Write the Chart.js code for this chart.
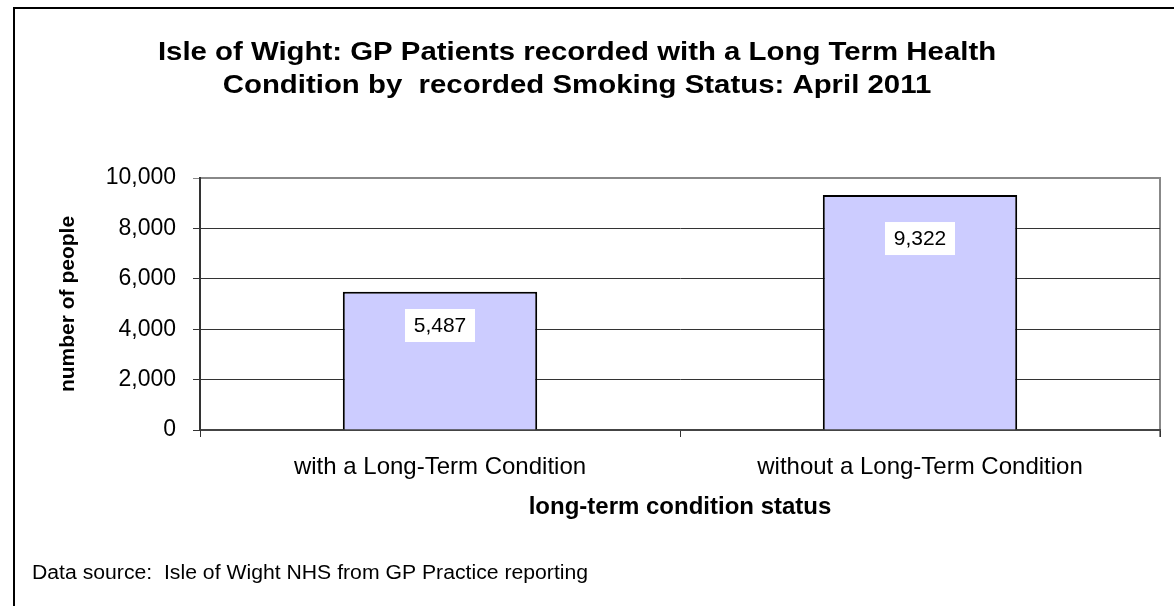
<!DOCTYPE html>
<html>
<head>
<meta charset="utf-8">
<script src="https://cdn.jsdelivr.net/npm/chart.js@4.4.1/dist/chart.umd.min.js"></script>
<style>
  html, body { margin: 0; padding: 0; background: #fff; }
  #wrap { position: relative; width: 1174px; height: 606px; }
</style>
</head>
<body>
<div id="wrap"><canvas id="lt-chart" width="1174" height="606"></canvas></div>
<script>
const categories = ["with a Long-Term Condition", "without a Long-Term Condition"];
const people = [5487, 9322];
const yTicks = [0, 2000, 4000, 6000, 8000, 10000];
const titleLines = [
    "Isle of Wight: GP Patients recorded with a Long Term Health",
    "Condition by  recorded Smoking Status: April 2011"
];
const sourceNote = "Data source:  Isle of Wight NHS from GP Practice reporting";

const FONT = "'Liberation Sans', Arial, sans-serif";

// text stretched horizontally so widths match the original
function wideText(ctx, text, x, y, sx) {
    ctx.save();
    ctx.translate(x, y);
    ctx.scale(sx, 1);
    ctx.fillText(text, 0, 0);
    ctx.restore();
}

// frame, title, plot border, value boxes and footnote
const decorations = {
    id: "decorations",
    beforeDraw(chart) {
        const { ctx, chartArea } = chart;
        ctx.save();
        ctx.strokeStyle = "#000";
        ctx.lineWidth = 2;
        ctx.beginPath();
        ctx.moveTo(14, 606);
        ctx.lineTo(14, 8);
        ctx.lineTo(1174, 8);
        ctx.stroke();

        ctx.fillStyle = "#000";
        ctx.textAlign = "center";
        ctx.textBaseline = "middle";
        ctx.font = "bold 26px " + FONT;
        titleLines.forEach((line, i) => wideText(ctx, line, 577, 53 + i * 33, 1.13));

        ctx.textAlign = "left";
        ctx.font = "20px " + FONT;
        wideText(ctx, sourceNote, 32, 573, 1.06);

        ctx.strokeStyle = "#888";
        ctx.lineWidth = 2;
        ctx.beginPath();
        ctx.moveTo(chartArea.left, chartArea.top);
        ctx.lineTo(chartArea.right, chartArea.top);
        ctx.lineTo(chartArea.right, chartArea.bottom + 7);
        ctx.stroke();
        ctx.restore();
    },
    afterDatasetsDraw(chart) {
        const { ctx } = chart;
        const meta = chart.getDatasetMeta(0);
        ctx.save();
        ctx.font = "21px " + FONT;
        ctx.textAlign = "center";
        ctx.textBaseline = "middle";
        meta.data.forEach((bar, i) => {
            const text = people[i].toLocaleString("en-GB");
            const cy = bar.y + 20 + 0.1 * (bar.base - bar.y);
            ctx.fillStyle = "#fff";
            ctx.fillRect(bar.x - 35, cy - 16.5, 70, 33);
            ctx.fillStyle = "#000";
            ctx.fillText(text, bar.x, cy + 1);
        });
        ctx.restore();
    }
};

new Chart(document.getElementById("lt-chart"), {
    type: "bar",
    data: {
        labels: categories,
        datasets: [{
            data: people,
            backgroundColor: "#CCCCFF",
            borderColor: "#000",
            borderWidth: 2,
            barPercentage: 0.405,
            categoryPercentage: 1
        }]
    },
    options: {
        responsive: false,
        animation: false,
        layout: { padding: { left: 0, right: 14, top: 178, bottom: 0 } },
        plugins: {
            legend: { display: false },
            title: { display: false },
            tooltip: { enabled: false }
        },
        scales: {
            x: {
                afterFit: scale => { scale.height = 176; },
                grid: {
                    offset: true,
                    drawOnChartArea: false,
                    tickLength: 7,
                    color: "#333",
                    lineWidth: 1
                },
                border: { color: "#444", width: 2 },
                ticks: {
                    color: "#000",
                    padding: 16,
                    font: { family: FONT, size: 24 }
                },
                title: {
                    display: true,
                    text: "long-term condition status",
                    color: "#000",
                    font: { family: FONT, size: 24, weight: "bold" },
                    padding: { top: 0, bottom: 84.6 }
                }
            },
            y: {
                min: 0,
                max: 10000,
                afterFit: scale => { scale.width = 200; },
                afterBuildTicks: scale => { scale.ticks = yTicks.map(v => ({ value: v })); },
                grid: {
                    tickLength: 7,
                    color: ctx => ctx.tick && ctx.tick.value === 10000 ? "#888" : "#333",
                    lineWidth: 1
                },
                border: { color: "#333", width: 2 },
                ticks: {
                    color: "#000",
                    padding: 17,
                    font: { family: FONT, size: 23 },
                    callback: v => v.toLocaleString("en-GB")
                },
                title: {
                    display: true,
                    text: "number of people",
                    color: "#000",
                    font: { family: FONT, size: 21, weight: "bold" },
                    padding: { top: 55.4, bottom: 0 }
                }
            }
        }
    },
    plugins: [decorations]
});
</script>
</body>
</html>
